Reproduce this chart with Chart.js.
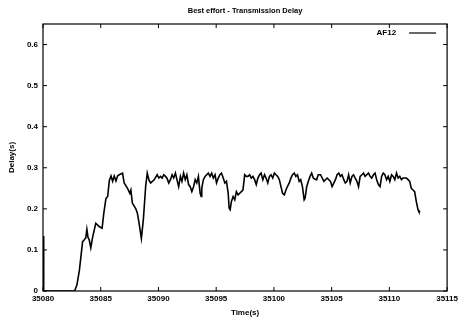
<!DOCTYPE html>
<html>
<head>
<meta charset="utf-8">
<script src="https://cdn.jsdelivr.net/npm/chart.js@4/dist/chart.umd.min.js"></script>
<style>
  html, body { margin: 0; padding: 0; background: #fff; }
  #wrap { width: 461px; height: 321px; }
</style>
</head>
<body>
<div id="wrap"><canvas id="chart" width="461" height="321"></canvas></div>
<script>
// AF12 delay trace
const times = [
  35080.00, 35080.06, 35082.74, 35082.94, 35083.15, 35083.43, 35083.56, 35083.71, 35083.80, 35083.90,
  35084.00, 35084.14, 35084.29, 35084.57, 35084.86, 35085.12, 35085.27, 35085.45, 35085.60, 35085.75,
  35085.89, 35086.03, 35086.17, 35086.32, 35086.46, 35086.60, 35086.89, 35087.03, 35087.32, 35087.52,
  35087.61, 35087.74, 35088.04, 35088.17, 35088.32, 35088.52, 35088.69, 35088.89, 35089.03, 35089.18,
  35089.32, 35089.61, 35089.89, 35090.03, 35090.18, 35090.32, 35090.46, 35090.61, 35090.75, 35090.89,
  35091.04, 35091.18, 35091.32, 35091.47, 35091.60, 35091.75, 35091.90, 35092.03, 35092.18, 35092.32,
  35092.46, 35092.61, 35092.75, 35092.89, 35093.04, 35093.18, 35093.32, 35093.46, 35093.61, 35093.70,
  35093.75, 35093.89, 35094.04, 35094.18, 35094.32, 35094.47, 35094.61, 35094.75, 35094.90, 35095.03,
  35095.18, 35095.32, 35095.46, 35095.61, 35095.75, 35095.89, 35096.04, 35096.12, 35096.21, 35096.32,
  35096.47, 35096.61, 35096.75, 35096.90, 35097.04, 35097.18, 35097.32, 35097.47, 35097.61, 35097.75,
  35097.90, 35098.04, 35098.18, 35098.33, 35098.47, 35098.61, 35098.76, 35098.89, 35099.04, 35099.19,
  35099.32, 35099.47, 35099.61, 35099.75, 35099.90, 35100.04, 35100.18, 35100.33, 35100.47, 35100.61,
  35100.75, 35100.90, 35101.04, 35101.18, 35101.33, 35101.47, 35101.61, 35101.76, 35101.90, 35102.04,
  35102.19, 35102.32, 35102.47, 35102.62, 35102.70, 35102.84, 35102.98, 35103.13, 35103.27, 35103.41,
  35103.56, 35103.70, 35103.84, 35104.04, 35104.33, 35104.61, 35104.90, 35105.04, 35105.33, 35105.47,
  35105.62, 35105.76, 35105.90, 35106.05, 35106.18, 35106.33, 35106.47, 35106.61, 35106.76, 35106.90,
  35107.04, 35107.19, 35107.33, 35107.47, 35107.62, 35107.76, 35107.90, 35108.04, 35108.19, 35108.33,
  35108.47, 35108.62, 35108.76, 35108.90, 35109.05, 35109.19, 35109.33, 35109.47, 35109.61, 35109.76,
  35109.90, 35110.04, 35110.19, 35110.33, 35110.47, 35110.62, 35110.76, 35110.90, 35111.05, 35111.19,
  35111.33, 35111.47, 35111.62, 35111.76, 35111.90, 35112.05, 35112.19, 35112.33, 35112.48, 35112.56,
  35112.68
];
const delays = [
  0.134, 0, 0, 0.015, 0.05, 0.12, 0.124, 0.13, 0.15, 0.13,
  0.125, 0.105, 0.13, 0.165, 0.157, 0.153, 0.19, 0.225, 0.23, 0.27,
  0.28, 0.267, 0.28, 0.268, 0.28, 0.283, 0.287, 0.263, 0.25, 0.238,
  0.246, 0.214, 0.2, 0.19, 0.165, 0.128, 0.173, 0.254, 0.287, 0.27,
  0.263, 0.27, 0.283, 0.275, 0.279, 0.275, 0.283, 0.279, 0.274, 0.263,
  0.271, 0.283, 0.275, 0.287, 0.271, 0.254, 0.279, 0.267, 0.287, 0.271,
  0.283, 0.259, 0.254, 0.242, 0.254, 0.271, 0.263, 0.279, 0.238, 0.230,
  0.250, 0.271, 0.279, 0.283, 0.287, 0.279, 0.287, 0.275, 0.283, 0.263,
  0.275, 0.283, 0.287, 0.275, 0.263, 0.267, 0.238, 0.202, 0.198, 0.218,
  0.230, 0.222, 0.242, 0.234, 0.238, 0.242, 0.246, 0.283, 0.279, 0.279,
  0.283, 0.275, 0.279, 0.271, 0.259, 0.275, 0.283, 0.287, 0.271, 0.283,
  0.275, 0.263, 0.279, 0.283, 0.275, 0.287, 0.283, 0.279, 0.271, 0.254,
  0.238, 0.234, 0.246, 0.255, 0.263, 0.275, 0.283, 0.287, 0.279, 0.283,
  0.267, 0.271, 0.254, 0.222, 0.226, 0.254, 0.267, 0.279, 0.287, 0.275,
  0.272, 0.271, 0.283, 0.283, 0.267, 0.275, 0.267, 0.254, 0.271, 0.283,
  0.287, 0.279, 0.283, 0.271, 0.263, 0.267, 0.283, 0.263, 0.279, 0.283,
  0.275, 0.267, 0.254, 0.279, 0.283, 0.287, 0.279, 0.283, 0.287, 0.279,
  0.275, 0.283, 0.287, 0.271, 0.259, 0.254, 0.279, 0.287, 0.283, 0.271,
  0.279, 0.267, 0.283, 0.279, 0.271, 0.287, 0.275, 0.279, 0.271, 0.275,
  0.275, 0.275, 0.271, 0.267, 0.250, 0.246, 0.242, 0.218, 0.198, 0.193,
  0.193
];
const xTicks = [35080, 35085, 35090, 35095, 35100, 35105, 35110, 35115];
const yTicks = [0, 0.1, 0.2, 0.3, 0.4, 0.5, 0.6];

const font = 'Liberation Sans, Arial, sans-serif';

// gnuplot style frame with inward ticks on all four sides, plus key at top right
const framePlugin = {
  id: 'frame',
  afterDraw(chart) {
    const { ctx, chartArea: a, scales: { x, y } } = chart;
    ctx.save();
    ctx.strokeStyle = '#000';
    ctx.lineWidth = 1.2;
    ctx.strokeRect(a.left, a.top, a.right - a.left, a.bottom - a.top);
    ctx.lineWidth = 1;
    ctx.beginPath();
    xTicks.forEach(v => {
      const px = x.getPixelForValue(v);
      ctx.moveTo(px, a.bottom); ctx.lineTo(px, a.bottom - 4);
      ctx.moveTo(px, a.top); ctx.lineTo(px, a.top + 4);
    });
    yTicks.forEach(v => {
      const py = y.getPixelForValue(v);
      ctx.moveTo(a.left, py); ctx.lineTo(a.left + 4, py);
      ctx.moveTo(a.right, py); ctx.lineTo(a.right - 4, py);
    });
    ctx.stroke();

    // key
    const ky = a.top + 9;
    ctx.fillStyle = '#000';
    ctx.font = 'bold 8px ' + font;
    ctx.textAlign = 'right';
    ctx.textBaseline = 'middle';
    ctx.fillText(chart.data.datasets[0].label, a.right - 51, ky);
    ctx.lineWidth = 1.2;
    ctx.beginPath();
    ctx.moveTo(a.right - 38, ky);
    ctx.lineTo(a.right - 11, ky);
    ctx.stroke();
    ctx.restore();
  }
};

new Chart(document.getElementById('chart'), {
  type: 'line',
  data: {
    datasets: [{
      label: 'AF12',
      data: times.map((t, i) => ({ x: t, y: delays[i] })),
      borderColor: '#000',
      backgroundColor: '#000',
      borderWidth: 1.6,
      pointRadius: 0,
      tension: 0,
    }]
  },
  options: {
    responsive: false,
    animation: false,
    layout: { padding: { top: 0, right: 10, left: 0, bottom: 0 } },
    plugins: {
      title: {
        display: true,
        fullSize: false,
        text: 'Best effort - Transmission Delay',
        color: '#000',
        font: { family: font, size: 7.5, weight: 'bold', lineHeight: 1.2 },
        padding: { top: 6, bottom: 9 },
      },
      legend: { display: false },
      tooltip: { enabled: false },
    },
    scales: {
      x: {
        type: 'linear',
        min: 35080,
        max: 35115,
        afterBuildTicks: s => { s.ticks = xTicks.map(v => ({ value: v })); },
        afterFit: s => { s.height = 30; },
        grid: { display: false, drawTicks: false },
        border: { display: false },
        ticks: {
          color: '#000',
          padding: 3,
          maxRotation: 0,
          autoSkip: false,
          font: { family: font, size: 8, weight: 'bold' },
          callback: v => String(v),
        },
        title: {
          display: true,
          text: 'Time(s)',
          color: '#000',
          font: { family: font, size: 8, weight: 'bold', lineHeight: 1.2 },
          padding: { top: 0, bottom: 3 },
        }
      },
      y: {
        min: 0,
        max: 0.65,
        afterBuildTicks: s => { s.ticks = yTicks.map(v => ({ value: v })); },
        afterFit: s => { s.width = 43; },
        grid: { display: false, drawTicks: false },
        border: { display: false },
        ticks: {
          color: '#000',
          padding: 5,
          font: { family: font, size: 8, weight: 'bold' },
          callback: v => String(v),
        },
        title: {
          display: true,
          text: 'Delay(s)',
          color: '#000',
          font: { family: font, size: 8, weight: 'bold', lineHeight: 1.2 },
          padding: { top: 7, bottom: 0 },
        }
      }
    }
  },
  plugins: [framePlugin]
});
</script>
</body>
</html>
